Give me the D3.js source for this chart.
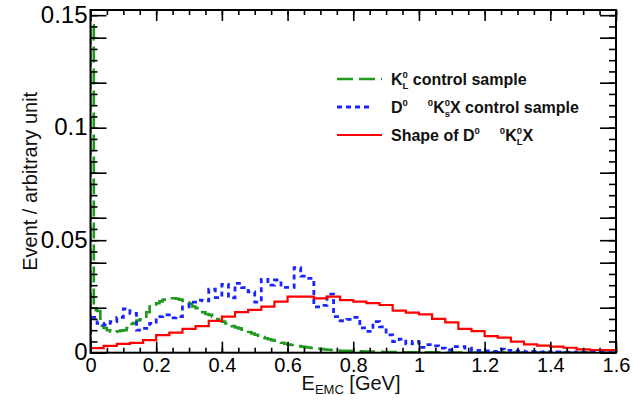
<!DOCTYPE html>
<html><head><meta charset="utf-8">
<script src="https://cdn.jsdelivr.net/npm/d3@7"></script>
<style>
body{margin:0;background:#fff}
svg text{font-family:"Liberation Sans",Arial,Helvetica,sans-serif}
</style>
</head><body>
<svg id="c" width="634" height="400"></svg>
<script>
// ---------- data ----------
const xTickLabels = ["0","0.2","0.4","0.6","0.8","1","1.2","1.4","1.6"];
const yTickLabels = ["0","0.05","0.1","0.15"];
const yLongTicks = [0.02,0.04,0.06,0.08,0.12,0.14];

// K_L^0 control sample (bin width 0.01 GeV, 160 bins)
const greenValues = [
0.1455,0.0190,0.0185,0.0120,0.0110,0.0100,0.0093,0.0092,0.0095,0.0098,
0.0100,0.0110,0.0128,0.0132,0.0143,0.0148,0.0160,0.0180,0.0205,0.0208,
0.0220,0.0228,0.0236,0.0240,0.0242,0.0242,0.0240,0.0236,0.0230,0.0224,
0.0218,0.0205,0.0198,0.0192,0.0180,0.0172,0.0168,0.0160,0.0150,0.0142,
0.0138,0.0130,0.0124,0.0118,0.0112,0.0108,0.0102,0.0098,0.0092,0.0085,
0.0080,0.0076,0.0070,0.0064,0.0060,0.0056,0.0053,0.0048,0.0044,0.0040,
0.0036,0.0034,0.0032,0.0030,0.0027,0.0025,0.0023,0.0021,0.0020,0.0018,
0.0016,0.0014,0.0013,0.0012,0.0011,0.0010,0.0009,0.0008,0.0008,0.0007,
0.0007,0.0006,0.0006,0.0005,0.0005,0.0005,0.0004,0.0004,0.0004,0.0003,
0.0003,0.0003,0.0003,0.0003,0.0002,0.0002,0.0002,0.0002,0.0002,0.0002,
0.0002,0.00015,0.00015,0.00015,0.00015,0.00015,0.00015,0.00012,0.00012,0.00012,
0.00012,0.00012,0.0001,0.0001,0.0001,0.0001,0.0001,0.0001,0.0001,0.0001,
0.0001,0.0001,0.0001,0.0001,0.0001,0.0001,0.0001,0.0001,0.0001,0.0001,
0.0001,0.0001,0.0001,0.0001,0.0001,0.0001,0.0001,0.0001,0.0001,0.0001,
0.0001,0.0001,0.0001,0.0001,0.0001,0.0001,0.0001,0.0001,0.0001,0.0001,
0.0001,0.0001,0.0001,0.0001,0.0001,0.0001,0.0001,0.0001,0.0001,0.0001
];

// D0 -> K_s^0 X control sample (bin width 0.02 GeV, 80 bins)
const blueValues = [
0.0157,0.0130,0.0123,0.0138,0.0157,0.0195,0.0175,0.0100,0.0108,0.0130,
0.0160,0.0168,0.0155,0.0160,0.0204,0.0225,0.0234,0.0230,0.0282,0.0245,
0.0304,0.0244,0.0308,0.0289,0.0270,0.0225,0.0326,0.0300,0.0323,0.0290,
0.0290,0.0378,0.0340,0.0330,0.0204,0.0210,0.0260,0.0160,0.0142,0.0148,
0.0157,0.0110,0.0095,0.0138,0.0115,0.0079,0.0049,0.0060,0.0039,0.0050,
0.0024,0.0036,0.0030,0.0020,0.0012,0.0027,0.0027,0.0020,0.0008,0.0010,
0.0008,0.0006,0.0016,0.0010,0.0005,0.0008,0.0004,0.0006,0.0003,0.0005,
0.0002,0.0004,0.0002,0.0003,0.0001,0.0002,0.0001,0.0001,0.0000,0.0000
];

// Shape of D0 -> K_L^0 X (bin width 0.04 GeV, 40 bins)
const redValues = [
0.0020,0.0030,0.0039,0.0044,0.0056,0.0078,0.0089,0.0106,0.0118,0.0141,
0.0160,0.0180,0.0190,0.0205,0.0227,0.0249,0.0249,0.0241,0.0249,0.0234,
0.0227,0.0220,0.0212,0.0187,0.0178,0.0170,0.0150,0.0135,0.0106,0.0096,
0.0074,0.0067,0.0049,0.0037,0.0031,0.0027,0.0022,0.0015,0.0012,0.0012
];

const seriesNames = ["control sample","control sample","Shape of D"];

// ---------- layout ----------
const svg = d3.select("#c");
const X0 = 90.5, X1 = 616, Y0 = 352.7, Y1 = 10;
const xMax = 1.6, yMax = 0.1523;
const x = d3.scaleLinear().domain([0, xMax]).range([X0, X1]);
const y = d3.scaleLinear().domain([0, yMax]).range([Y0, Y1]);

svg.append("defs").append("clipPath").attr("id","plot")
  .append("rect").attr("x",X0).attr("y",Y1).attr("width",X1-X0).attr("height",Y0-Y1);

function histPoints(vals){
  const w = xMax/vals.length;
  const pts = [[0,0]];
  vals.forEach((v,i)=>pts.push([i*w, v]));
  pts.push([vals.length*w, 0]);
  return pts;
}
const line = d3.line().x(d=>x(d[0])).y(d=>y(d[1])).curve(d3.curveStepAfter);

const plot = svg.append("g").attr("clip-path","url(#plot)");
const GREEN = "#1f9a1f", BLUE = "#1a24ff", RED = "#ff0000";

plot.append("path").attr("d", line(histPoints(greenValues)))
  .attr("fill","none").attr("stroke",GREEN).attr("stroke-width",2.6)
  .attr("stroke-dasharray","16,6");
plot.append("path").attr("d", line(histPoints(blueValues)))
  .attr("fill","none").attr("stroke",BLUE).attr("stroke-width",2.8)
  .attr("stroke-dasharray","5,4");
plot.append("path").attr("d", line(histPoints(redValues)))
  .attr("fill","none").attr("stroke",RED).attr("stroke-width",2.2);

// ---------- axes ----------
const xMajor = xTickLabels.map(Number);
const xMinor = d3.range(0, xMax + 1e-9, 0.05);
const yMajor = yTickLabels.map(Number);
const yMinor = d3.range(0, 0.15 + 1e-9, 0.005);

function styleAxis(g){
  g.select(".domain").remove();
  g.selectAll(".tick line").attr("stroke","#000").attr("stroke-width",1.6);
}

// bottom
svg.append("g").attr("transform",`translate(0,${Y0})`)
  .call(d3.axisBottom(x).tickValues(xMinor).tickSize(-5).tickFormat(""))
  .call(styleAxis);
const gxb = svg.append("g").attr("transform",`translate(0,${Y0})`)
  .call(d3.axisBottom(x).tickValues(xMajor).tickSize(-11).tickPadding(5)
        .tickFormat((d,i)=>xTickLabels[i]))
  .call(styleAxis);
gxb.selectAll("text").attr("font-size",20).attr("fill","#000")
  .attr("font-family","'Liberation Sans',Arial,sans-serif");

// top
svg.append("g").attr("transform",`translate(0,${Y1})`)
  .call(d3.axisTop(x).tickValues(xMinor).tickSize(-5).tickFormat(""))
  .call(styleAxis);
svg.append("g").attr("transform",`translate(0,${Y1})`)
  .call(d3.axisTop(x).tickValues(xMajor).tickSize(-11).tickFormat(""))
  .call(styleAxis);

// left
svg.append("g").attr("transform",`translate(${X0},0)`)
  .call(d3.axisLeft(y).tickValues(yMinor).tickSize(-7).tickFormat(""))
  .call(styleAxis);
svg.append("g").attr("transform",`translate(${X0},0)`)
  .call(d3.axisLeft(y).tickValues(yLongTicks).tickSize(-16).tickFormat(""))
  .call(styleAxis);
const gyl = svg.append("g").attr("transform",`translate(${X0},0)`)
  .call(d3.axisLeft(y).tickValues(yMajor).tickSize(-16).tickPadding(3)
        .tickFormat((d,i)=>yTickLabels[i]))
  .call(styleAxis);
gyl.selectAll("text").attr("font-size",24).attr("fill","#000")
  .attr("font-family","'Liberation Sans',Arial,sans-serif").attr("dy","0.3em");

// right
svg.append("g").attr("transform",`translate(${X1},0)`)
  .call(d3.axisRight(y).tickValues(yMinor).tickSize(-7).tickFormat(""))
  .call(styleAxis);
svg.append("g").attr("transform",`translate(${X1},0)`)
  .call(d3.axisRight(y).tickValues(yLongTicks.concat(yMajor)).tickSize(-16).tickFormat(""))
  .call(styleAxis);

// frame
svg.append("rect").attr("x",X0).attr("y",Y1).attr("width",X1-X0).attr("height",Y0-Y1)
  .attr("fill","none").attr("stroke","#000").attr("stroke-width",2);

// axis titles
const xt = svg.append("text").attr("x",351).attr("y",390).attr("text-anchor","middle")
  .attr("font-size",20).attr("fill","#111");
xt.append("tspan").text("E");
xt.append("tspan").attr("font-size",13).attr("dy",4).text("EMC");
xt.append("tspan").attr("dy",-4).text(" [GeV]");

svg.append("text").attr("transform",`translate(37,${(Y0+Y1)/2}) rotate(-90)`)
  .attr("text-anchor","middle").attr("font-size",20).attr("fill","#111")
  .text("Event / arbitrary unit");

// ---------- legend ----------
const leg = svg.append("g").attr("font-weight","bold").attr("font-size",16).attr("fill","#111");
const SUP = 9.5;
const rows = [
  {y:79, color:GREEN, dash:"16,6", w:2.6, x2:382},
  {y:107, color:BLUE, dash:"5,4", w:2.8, x2:373},
  {y:135, color:RED, dash:null, w:2.2, x2:382}
];
rows.forEach(r=>{
  const l = leg.append("line").attr("x1",337).attr("x2",r.x2).attr("y1",r.y).attr("y2",r.y)
    .attr("stroke",r.color).attr("stroke-width",r.w);
  if(r.dash) l.attr("stroke-dasharray",r.dash);
});

// row 1: K_L^0 control sample
let t = leg.append("text").attr("x",391).attr("y",84.5);
t.append("tspan").text("K");
t.append("tspan").attr("font-size",SUP).attr("dy",-7).text("0");
t.append("tspan").attr("font-size",SUP).attr("dx",-5.3).attr("dy",11).text("L");
t.append("tspan").attr("dy",-4).text(" " + seriesNames[0]);

// row 2: D^0  ^0K_s^0X control sample
t = leg.append("text").attr("x",391).attr("y",112.5);
t.append("tspan").text("D");
t.append("tspan").attr("font-size",SUP).attr("dy",-7).text("0");
t.append("tspan").attr("font-size",SUP).attr("dx",20).text("0");
t.append("tspan").attr("dy",7).text("K");
t.append("tspan").attr("font-size",SUP).attr("dy",-7).text("0");
t.append("tspan").attr("font-size",SUP).attr("dx",-5.3).attr("dy",11).text("s");
t.append("tspan").attr("dy",-4).text("X " + seriesNames[1]);

// row 3: Shape of D^0  ^0K_L^0X
t = leg.append("text").attr("x",391).attr("y",141);
t.append("tspan").text(seriesNames[2]);
t.append("tspan").attr("font-size",SUP).attr("dy",-7).text("0");
t.append("tspan").attr("font-size",SUP).attr("dx",20).text("0");
t.append("tspan").attr("dy",7).text("K");
t.append("tspan").attr("font-size",SUP).attr("dy",-7).text("0");
t.append("tspan").attr("font-size",SUP).attr("dx",-5.3).attr("dy",11).text("L");
t.append("tspan").attr("dy",-4).text("X");
</script>
</body></html>
